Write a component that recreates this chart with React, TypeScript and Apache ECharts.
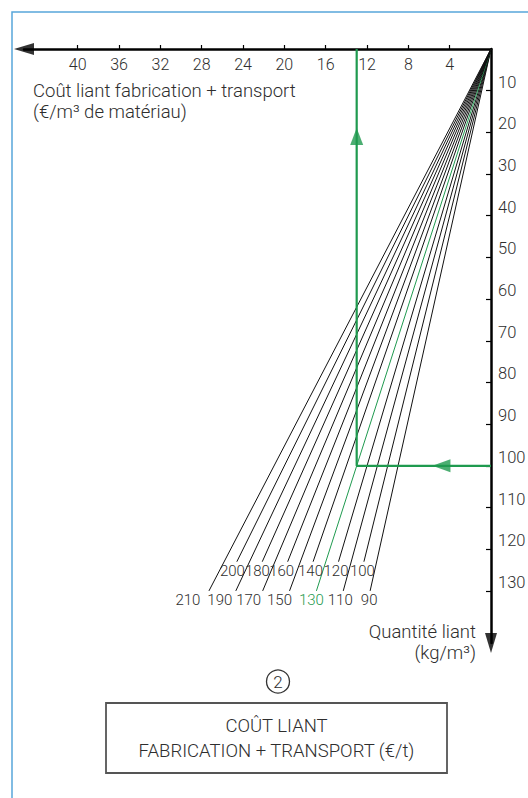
import React, { useEffect, useRef } from "react";
import * as echarts from "echarts";

// ---- data ----
const prices = [90, 100, 110, 120, 130, 140, 150, 160, 170, 180, 190, 200, 210]; // €/t
const highlightPrice = 130;
const lowerRowPrices = [90, 110, 130, 150, 170, 190, 210];
const qEndLower = 130; // kg/m3 where lower-row lines stop
const qEndUpper = 123; // kg/m3 where upper-row lines stop
const xTicks = [4, 8, 12, 16, 20, 24, 28, 32, 36, 40]; // €/m3
const yTicks = [10, 20, 30, 40, 50, 60, 70, 80, 90, 100, 110, 120, 130]; // kg/m3
const exampleQuantity = 100; // kg/m3
const exampleCost = (highlightPrice * exampleQuantity) / 1000; // 13 €/m3
const arrowUpAt = 21; // kg/m3 position of up arrow
const arrowLeftAt = 4.8; // €/m3 position of left arrow
const xMax = 45.2;
const yMax = 142.5;

// ---- styles ----
const GREEN = "#1f9a4f";
const TEXT = "#2e2e2e";
const FONT = "Roboto";
const labelOffsets: Record<number, [number, number]> = {
  90: [-1, 9.5], 110: [-3, 9.5], 130: [-5, 9.5], 150: [-10, 9.5], 170: [-14, 9.5], 190: [-16, 9.5], 210: [-21, 9.5],
  100: [-1.5, 9.5], 120: [-2.5, 9.5], 140: [-2.6, 9.5], 160: [-6, 9.5], 180: [-4.8, 9.5], 200: [-4.4, 9.5],
};

export default function App() {
  const ref = useRef<HTMLDivElement>(null);
  useEffect(() => {
    if (!ref.current) return;
    const chart = echarts.init(ref.current, null, { renderer: "svg" });

    const fanSeries = prices.map((p) => {
      const qEnd = lowerRowPrices.includes(p) ? qEndLower : qEndUpper;
      const hi = p === highlightPrice;
      return {
        type: "line",
        name: String(p),
        data: [
          [0, 0],
          {
            value: [(p * qEnd) / 1000, qEnd],
            label: {
              show: true,
              position: "inside",
              offset: labelOffsets[p],
              formatter: String(p),
              color: hi ? GREEN : TEXT,
              fontSize: 15,
              fontWeight: 300,
              fontFamily: FONT,
            },
          },
        ],
        symbol: "circle",
        symbolSize: 0,
        showSymbol: true,
        itemStyle: { color: "transparent" },
        lineStyle: { color: hi ? GREEN : "#111", width: 1 },
        label: { show: false },
        silent: true,
        z: 2,
      };
    });

    const txt = (text: string, x: number, y: number, align: string, size = 18.5) => ({
      type: "text",
      silent: true,
      style: {
        text,
        x,
        y,
        textAlign: align,
        textVerticalAlign: "middle",
        fill: TEXT,
        font: `300 ${size}px ${FONT}`,
      },
    });

    chart.setOption({
      animation: false,
      backgroundColor: "#fff",
      grid: { left: 24, right: 37, top: 49, bottom: 155, containLabel: false, outerBoundsMode: "none" },
      xAxis: {
        type: "value",
        position: "top",
        inverse: true,
        min: 0,
        max: xMax,
        axisLine: { show: true, onZero: false, lineStyle: { color: "#000", width: 2.5 } },
        axisTick: { show: true, customValues: xTicks, length: 4, lineStyle: { color: "#000", width: 1.2 } },
        axisLabel: { show: true, customValues: xTicks, inside: true, margin: 7, color: TEXT, fontSize: 16, fontWeight: 300, fontFamily: FONT },
        splitLine: { show: false },
      },
      yAxis: {
        type: "value",
        position: "right",
        inverse: true,
        min: 0,
        max: yMax,
        axisLine: { show: true, onZero: false, lineStyle: { color: "#000", width: 2.5 } },
        axisTick: { show: true, inside: true, customValues: yTicks, length: 5, lineStyle: { color: "#000", width: 1.2 } },
        axisLabel: { show: true, customValues: yTicks, margin: 7, color: TEXT, fontSize: 16.5, fontWeight: 300, fontFamily: FONT, verticalAlign: "bottom" },
        splitLine: { show: false },
      },
      series: [
        ...fanSeries,
        {
          type: "line",
          data: [
            [0, exampleQuantity],
            [exampleCost, exampleQuantity],
            [exampleCost, 0],
          ],
          symbol: "none",
          lineStyle: { color: GREEN, width: 2.2 },
          silent: true,
          z: 3,
        },
        {
          type: "scatter",
          symbol: "triangle",
          data: [
            { value: [exampleCost, arrowUpAt], symbolSize: [13, 17], symbolRotate: 0 },
            { value: [arrowLeftAt, exampleQuantity], symbolSize: [13, 18], symbolRotate: 90 },
          ],
          itemStyle: { color: GREEN },
          silent: true,
          z: 4,
        },
        {
          type: "scatter",
          symbol: "triangle",
          clip: false,
          data: [
            { value: [xMax, 0], symbolSize: [12, 20], symbolRotate: 90 },
            { value: [0, yMax], symbolSize: [12, 20], symbolRotate: 180 },
          ],
          itemStyle: { color: "#000" },
          silent: true,
          z: 4,
        },
      ],
      graphic: [
        {
          type: "rect",
          shape: { x: 12, y: 12, width: 700, height: 900 },
          style: { fill: "none", stroke: "#58a6da", lineWidth: 1.5 },
          silent: true,
        },
        txt("Coût liant fabrication + transport", 33, 91, "left"),
        txt("(€/m³ de matériau)", 33, 112, "left"),
        txt("Quantité liant", 476, 632, "right"),
        txt("(kg/m³)", 476, 653, "right"),
        {
          type: "circle",
          shape: { cx: 278, cy: 681.5, r: 11.5 },
          style: { fill: "none", stroke: "#333", lineWidth: 1.3 },
          silent: true,
        },
        txt("2", 278, 682, "center", 17),
        {
          type: "rect",
          shape: { x: 106, y: 703, width: 341, height: 70 },
          style: { fill: "none", stroke: "#555", lineWidth: 1.8 },
          silent: true,
        },
        txt("COÛT LIANT", 276.5, 726, "center"),
        txt("FABRICATION + TRANSPORT (€/t)", 276.5, 751, "center"),
      ],
    });
    return () => chart.dispose();
  }, []);

  return (
    <div
      ref={ref}
      style={{ position: "absolute", left: 0, top: 0, width: 528, height: 798, background: "#fff" }}
    />
  );
}
